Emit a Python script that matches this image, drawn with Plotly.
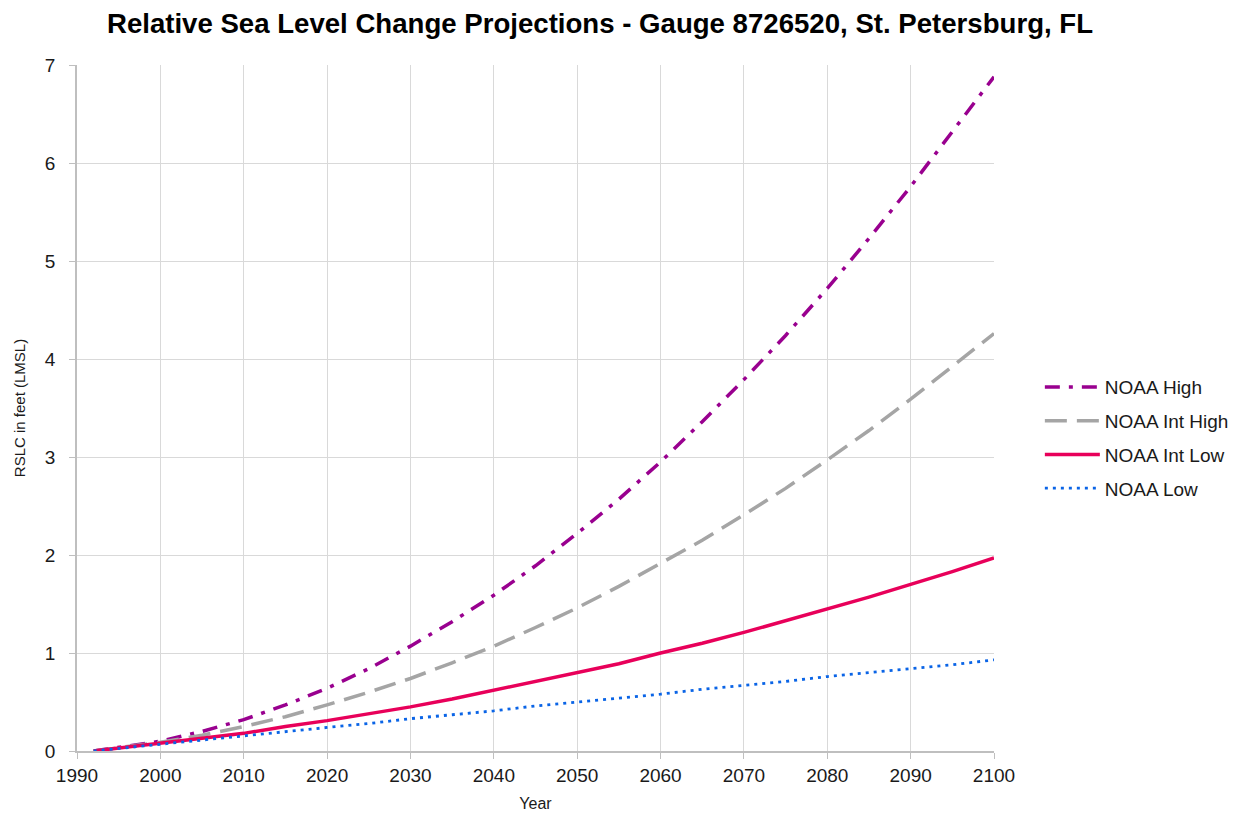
import plotly.graph_objects as go

years = [1992, 2000, 2005, 2010, 2015, 2020, 2025, 2030, 2035, 2040, 2045, 2050,
         2055, 2060, 2065, 2070, 2075, 2080, 2085, 2090, 2095, 2100]
noaa_high = [0.0, 0.10, 0.20, 0.32, 0.47, 0.64, 0.84, 1.07, 1.32, 1.59, 1.89, 2.22,
             2.57, 2.95, 3.36, 3.79, 4.24, 4.72, 5.23, 5.76, 6.32, 6.88]
noaa_int_high = [0.0, 0.09, 0.16, 0.25, 0.35, 0.47, 0.60, 0.74, 0.90, 1.07, 1.26, 1.46,
                 1.68, 1.91, 2.15, 2.41, 2.68, 2.97, 3.27, 3.59, 3.92, 4.26]
noaa_int_low = [0.0, 0.075, 0.13, 0.18, 0.25, 0.31, 0.38, 0.45, 0.53, 0.62, 0.71, 0.80,
                0.89, 1.00, 1.10, 1.21, 1.33, 1.45, 1.57, 1.70, 1.83, 1.97]
noaa_low = [0.0, 0.07, 0.11, 0.15, 0.20, 0.24, 0.28, 0.33, 0.37, 0.41, 0.46, 0.50,
            0.54, 0.58, 0.63, 0.67, 0.71, 0.76, 0.80, 0.84, 0.88, 0.93]

series = [
    ("NOAA High", noaa_high, "#99008f", "15px,9px,4px,9px", 3.5),
    ("NOAA Int High", noaa_int_high, "#a5a5a5", "22px,10px", 3.5),
    ("NOAA Int Low", noaa_int_low, "#e8005a", "solid", 3.5),
    ("NOAA Low", noaa_low, "#0a64e6", "3px,5px", 2.8),
]

fig = go.Figure()
for i, (name, vals, color, dash, w) in enumerate(series):
    fig.add_trace(go.Scatter(x=years, y=vals, mode="lines", name=name,
                             legendgroup=str(i),
                             line=dict(color=color, dash=dash, width=w)))

W, H = 1233, 805
font_family = "Liberation Sans, Arial, sans-serif"
fig.update_layout(
    width=W, height=H,
    paper_bgcolor="white", plot_bgcolor="white",
    margin=dict(l=69, r=247, t=57, b=62, autoexpand=False),
    font=dict(family=font_family, size=19, color="#1a1a1a"),
    title=dict(text="<b>Relative Sea Level Change Projections - Gauge 8726520, St. Petersburg, FL</b>",
               x=592/W, xanchor="center", y=1 - 15/H, yanchor="middle",
               font=dict(size=27.6, color="#000000", family=font_family)),
    legend=dict(x=1.050, y=0.558, xanchor="left", yanchor="top",
                font=dict(size=19, color="#1a1a1a"), tracegroupgap=6,
                itemwidth=55, bgcolor="rgba(0,0,0,0)"),
    showlegend=True,
)
fig.update_xaxes(range=[1990, 2100], dtick=10, tick0=1990,
                 showgrid=True, gridcolor="#d9d9d9", gridwidth=1,
                 showline=True, linecolor="#bfbfbf", linewidth=2,
                 ticks="outside", ticklen=6, tickcolor="#bfbfbf",
                 tickfont=dict(size=19),
                 title=dict(text="Year", font=dict(size=16), standoff=13),
                 automargin=False, zeroline=False)
fig.update_yaxes(range=[0, 7], dtick=1,
                 showgrid=True, gridcolor="#d9d9d9", gridwidth=1,
                 showline=True, linecolor="#bfbfbf", linewidth=1.5,
                 ticks="outside", ticklen=6, tickcolor="#bfbfbf",
                 tickfont=dict(size=19), ticklabelstandoff=10,
                 title=dict(text="RSLC in feet (LMSL)", font=dict(size=15), standoff=16),
                 automargin=False, zeroline=False)

fig.write_html("out.html")
